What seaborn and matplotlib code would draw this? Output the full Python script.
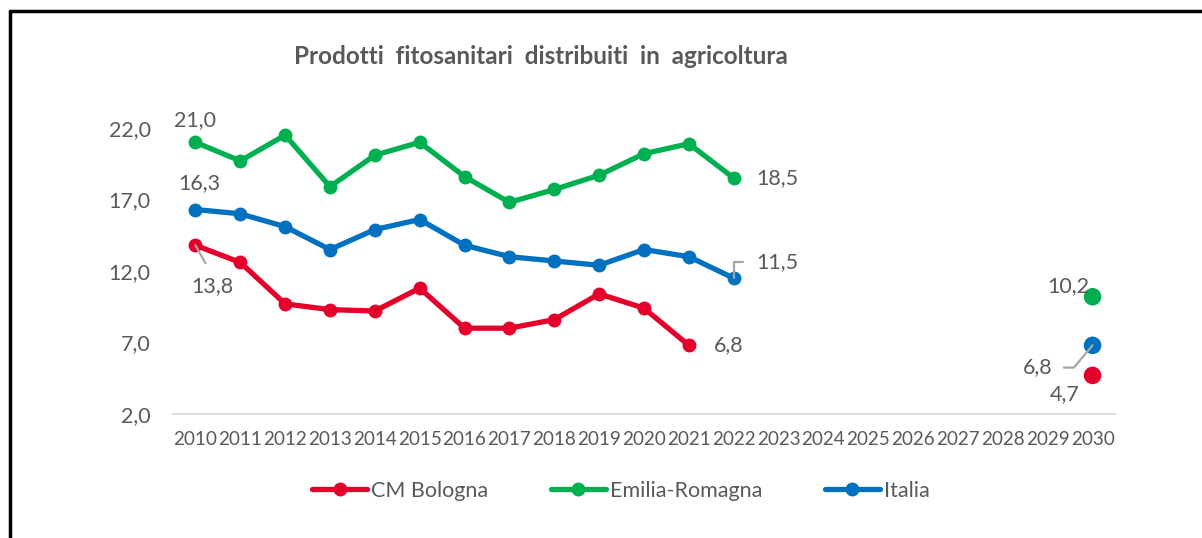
import pandas as pd
import numpy as np
import seaborn as sns
import matplotlib.pyplot as plt
from matplotlib.lines import Line2D

years = list(range(2010, 2023))
cm_bologna = [13.8, 12.6, 9.7, 9.3, 9.2, 10.8, 8.0, 8.0, 8.6, 10.4, 9.4, 6.8, np.nan]
emilia_romagna = [21.0, 19.7, 21.5, 17.9, 20.1, 21.0, 18.6, 16.8, 17.7, 18.7, 20.2, 20.9, 18.5]
italia = [16.3, 16.0, 15.1, 13.5, 14.9, 15.6, 13.8, 13.0, 12.7, 12.4, 13.5, 13.0, 11.5]

series = ['CM Bologna', 'Emilia-Romagna', 'Italia']
target_year = 2030
targets = [4.7, 10.2, 6.8]
xtick_years = list(range(2010, 2031))
yticks = [2.0, 7.0, 12.0, 17.0, 22.0]

colors = {'CM Bologna': '#E4002B', 'Emilia-Romagna': '#00B050', 'Italia': '#0070C0'}
grey_txt = '#595959'
leader = '#A6A6A6'

df = pd.DataFrame({'anno': years * 3,
                   'valore': cm_bologna + emilia_romagna + italia,
                   'serie': np.repeat(series, len(years))}).dropna()
df_t = pd.DataFrame({'anno': [target_year] * 3, 'valore': targets, 'serie': series})

sns.set_style('white')
plt.rcParams['font.family'] = ['Lato', 'DejaVu Sans']

fig = plt.figure(figsize=(12.02, 5.38), dpi=100)
ax = fig.add_axes([173 / 1202, 1 - 414 / 538, (1115 - 173) / 1202, (414 - 128) / 538])

sns.lineplot(data=df, x='anno', y='valore', hue='serie', hue_order=series, palette=colors,
             marker='o', markersize=10, markeredgewidth=0, linewidth=3.8, legend=False, ax=ax)
sns.scatterplot(data=df_t, x='anno', y='valore', hue='serie', hue_order=series, palette=colors,
                s=160, linewidth=0, legend=False, ax=ax, clip_on=False)
for ln in ax.lines:
    ln.set_clip_on(False)

fs = 15.5
ax.set_xlim(2009.5, 2030.5)
ax.set_ylim(2, 22)
ax.set_yticks(yticks)
ax.set_yticklabels([f'{v:.1f}'.replace('.', ',') for v in yticks])
ax.set_xticks(xtick_years)
ax.set_xticklabels([str(y) for y in xtick_years])
ax.set_xticks(np.arange(2009.5, 2031, 1), minor=True)
ax.tick_params(axis='x', which='major', length=0, labelsize=13.6, labelcolor=grey_txt, pad=12.5)
ax.tick_params(axis='x', which='minor', length=6, width=1.3, color='#D9D9D9', direction='out')
ax.tick_params(axis='y', length=0, labelsize=fs, labelcolor=grey_txt, pad=16)
for s in ['top', 'right', 'left']:
    ax.spines[s].set_visible(False)
ax.spines['bottom'].set_color('#D9D9D9')
ax.spines['bottom'].set_linewidth(1.3)
ax.set_xlabel('')
ax.set_ylabel('')

def fmt(v):
    return f'{v:.1f}'.replace('.', ',')

lab = dict(fontsize=fs, color=grey_txt, textcoords='offset points')
ap = dict(arrowstyle='-', color=leader, lw=1.6, shrinkB=0)
ax.annotate(fmt(emilia_romagna[0]), (2010, emilia_romagna[0]), xytext=(0, 16), ha='center', va='center', **lab)
ax.annotate(fmt(emilia_romagna[-1]), (2022, emilia_romagna[-1]), xytext=(16, 0), ha='left', va='center', **lab)
ax.annotate(fmt(italia[0]), (2010, italia[0]), xytext=(3, 19), ha='center', va='center', **lab)
ax.annotate(fmt(italia[-1]), (2022, italia[-1]), xytext=(16, 11.5), ha='left', va='center',
            arrowprops=dict(connectionstyle='angle,angleA=0,angleB=90,rad=0', relpos=(0, 0.5), shrinkA=7, **ap), **lab)
ax.annotate(fmt(cm_bologna[0]), (2010, cm_bologna[0]), xytext=(12.5, -29.5), ha='center', va='center',
            arrowprops=dict(relpos=(0.5, 1.0), shrinkA=8, **ap), **lab)
ax.annotate(fmt(cm_bologna[-2]), (2021, cm_bologna[-2]), xytext=(18, 0), ha='left', va='center', **lab)
ax.annotate(fmt(targets[1]), (target_year, targets[1]), xytext=(-2, 8), ha='right', va='center', **lab)
ax.annotate(fmt(targets[2]), (target_year, targets[2]), xytext=(-29, -16), ha='right', va='center',
            arrowprops=dict(connectionstyle='angle,angleA=0,angleB=50,rad=0', relpos=(1, 0.5), shrinkA=6, **ap), **lab)
ax.annotate(fmt(targets[0]), (target_year, targets[0]), xytext=(-9, -6), ha='right', va='top', **lab)

fig.text(541 / 1202, 1 - 57 / 538, 'Prodotti  fitosanitari  distribuiti  in  agricoltura',
         ha='center', va='center', fontsize=17.5, fontweight='bold', color=grey_txt)

handles = [Line2D([0], [0], color=colors[s], lw=3.8, marker='o', markersize=9) for s in series]
fig.legend(handles, series, loc='center', bbox_to_anchor=(621 / 1202, 1 - 491 / 538), ncol=3, frameon=False,
           fontsize=fs, labelcolor=grey_txt, handlelength=2.55, handletextpad=0.2, columnspacing=2.9)

# cornice del grafico (ritagliata)
fig.add_artist(Line2D([9.5 / 1202, 9.5 / 1202], [0, 1 - 10.5 / 538], color='black', lw=2.5, transform=fig.transFigure))
fig.add_artist(Line2D([9.5 / 1202, 1], [1 - 10.5 / 538, 1 - 10.5 / 538], color='black', lw=2.5, transform=fig.transFigure))

fig.savefig('out.png', dpi=100)
